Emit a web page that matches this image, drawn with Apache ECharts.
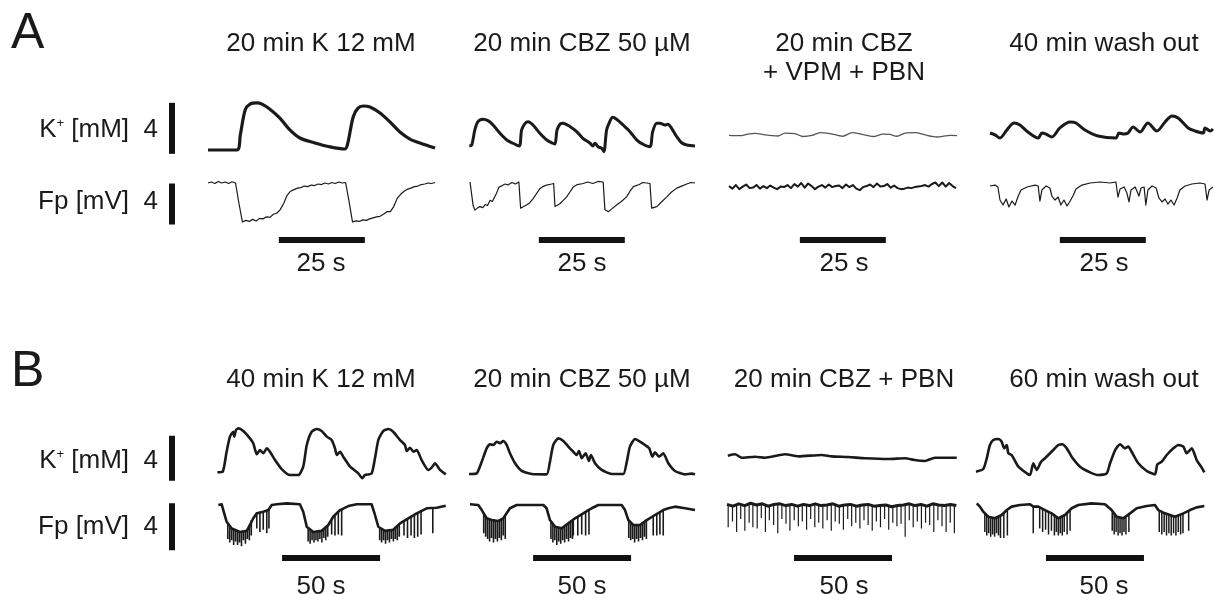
<!DOCTYPE html>
<html>
<head>
<meta charset="utf-8">
<script src="https://cdn.jsdelivr.net/npm/echarts@6.0.0/dist/echarts.min.js"></script>
<style>
html,body{margin:0;padding:0;background:#fff}
#main{width:1215px;height:594px}
</style>
</head>
<body>
<div id="main"></div>
<script>
// ---- data: time in s from the start of each trace, K+ in mM, Fp in mV ----
// panel A, K+ traces [t, dK]
var kA1 = [[0,0],[8.4,0],[9.4,1.2],[10.8,3.14],[12.2,3.6],[14.2,3.69],[15.7,3.6],[18,3.2],[20.9,2.5],[23.8,1.57],[26.7,0.94],[31.1,0.55],[35.5,0.24],[39.8,0.08],[40.6,0.5],[42.2,2.59],[43.6,3.29],[45.1,3.45],[47.1,3.37],[50.0,2.9],[52.9,2.2],[55.8,1.41],[58.7,0.86],[61.6,0.55],[66.0,0.16]];
var kA2 = [[0.1,0.31],[0.8,0.39],[1.7,1.57],[2.6,2.22],[4.1,2.41],[5.5,2.30],[7.0,1.96],[9.0,1.31],[11.0,0.78],[12.8,0.53],[14.6,0.31],[15.3,1.57],[16.3,2.09],[17.2,2.22],[18.6,1.96],[20.6,1.31],[22.6,0.78],[24.4,0.53],[25.0,0.47],[25.6,1.57],[26.5,2.04],[27.3,2.09],[29.4,1.83],[31.3,1.44],[33.1,0.92],[35.2,0.53],[36.0,0.31],[36.6,0.53],[37.5,0.26],[38.6,0.13],[39.2,-0.13],[40.0,1.57],[40.7,2.09],[41.8,2.56],[42.9,2.41],[44.8,1.96],[46.8,1.44],[48.8,0.78],[50.6,0.45],[52.6,0.26],[53.4,1.44],[54.6,2.09],[55.5,2.09],[57.0,1.96],[57.8,2.02],[58.9,1.70],[60.4,1.04],[61.8,0.57],[63.3,0.39],[65.7,0.31]];
var kA3 = [[0,1.15],[3.2,1.12],[5.5,1.25],[7.6,1.31],[10.5,1.18],[14.2,1.10],[16.3,1.33],[19.2,1.29],[21.5,1.06],[24.1,1.14],[26.5,1.37],[29.4,1.29],[33.1,1.08],[35.8,1.37],[38.7,1.22],[41.9,1.06],[44.8,1.25],[46.8,1.22],[48.8,1.08],[51.2,1.33],[54.1,1.36],[57.0,1.18],[60.5,1.02],[62.8,1.10],[64.2,1.14],[66.3,1.12]];
var kA4 = [[0,1.33],[1.45,1.18],[2.9,0.94],[4.9,1.57],[7.0,2.12],[8.7,1.96],[11.0,1.41],[14.0,0.94],[15.1,1.33],[16.3,1.25],[18.0,1.02],[20.3,1.73],[23.3,2.20],[25.0,2.12],[27.6,1.57],[31.4,1.10],[36.6,0.94],[37.5,1.33],[39.0,1.25],[40.1,1.33],[41.6,1.80],[43.6,1.41],[45.9,2.12],[48.5,1.49],[50.9,2.20],[52.9,2.67],[54.7,2.51],[57.6,1.73],[59.6,1.49],[62.0,1.33],[62.5,1.73],[64.0,1.49],[64.8,1.65]];

// panel A, Fp traces; fpA1 and fpA3 are sampled every 1 s, the others are [t, v]
var fpA1 = [0,0.1,-0.05,0.15,0,0.1,-0.05,0.12,0,-2.0,-3.8,-3.65,-3.75,-3.55,-3.7,-3.45,-3.5,-3.3,-3.35,-3.05,-2.95,-2.6,-2.0,-1.2,-0.8,-0.65,-0.5,-0.45,-0.3,-0.35,-0.2,-0.25,-0.1,-0.15,0,-0.1,0.05,-0.05,0.1,0,0.05,-1.8,-3.8,-3.7,-3.75,-3.6,-3.65,-3.5,-3.4,-3.3,-3.25,-3.05,-2.8,-2.8,-2.3,-1.5,-1.1,-0.8,-0.6,-0.5,-0.35,-0.3,-0.15,-0.1,0,-0.05,0.05];
var fpA2 = [[0.3,0.1],[1.2,-2.2],[1.7,-2.65],[2.6,-2.4],[3.2,-2.3],[4.0,-2.4],[4.7,-2.1],[5.4,-2.2],[6.1,-1.7],[6.8,-1.8],[8.0,-1.0],[8.7,-0.4],[9.4,-0.3],[10.5,-0.1],[11.3,-0.2],[12.5,0.05],[13.5,-0.1],[14.5,0.1],[15.0,-2.45],[15.9,-2.3],[16.7,-2.15],[17.6,-1.95],[18.7,-1.5],[19.5,-1.1],[20.6,-0.55],[21.5,-0.35],[22.6,-0.2],[24.0,-0.1],[24.6,-0.05],[25.0,-2.3],[25.8,-2.15],[26.5,-2.0],[27.4,-1.7],[28.4,-1.35],[29.3,-0.9],[30.3,-0.4],[31.5,-0.15],[33.2,-0.05],[34.5,0.1],[36,-0.05],[37.5,0.15],[39.0,0.1],[39.5,-2.6],[40.5,-2.8],[41.6,-2.5],[42.9,-2.15],[44.3,-1.8],[45.8,-1.35],[46.8,-0.8],[47.8,-0.35],[49.5,-0.15],[50.5,0.05],[51.7,0.0],[52.6,-0.05],[53.1,-2.45],[54.6,-2.3],[55.8,-1.9],[57.5,-1.35],[58.8,-0.9],[60.4,-0.5],[61.8,-0.3],[63.3,-0.1],[64.5,0.05],[65.7,0.0]];
var fpA3 = [-0.3,-0.55,-0.2,-0.6,-0.35,-0.15,-0.5,-0.45,-0.2,-0.55,-0.3,-0.5,-0.25,-0.45,-0.6,-0.35,-0.4,-0.2,-0.5,-0.1,-0.35,0.0,-0.45,-0.05,-0.3,-0.6,-0.35,-0.2,-0.45,-0.15,-0.4,-0.3,-0.25,-0.5,-0.15,-0.4,-0.2,-0.55,-0.7,-0.4,-0.3,-0.15,-0.4,-0.05,-0.35,-0.3,-0.1,-0.45,-0.25,-0.5,-0.6,-0.55,-0.45,-0.5,-0.4,-0.35,-0.3,-0.2,-0.35,-0.1,0.05,-0.3,0.05,-0.35,0.0,-0.3,-0.5];
var fpA4 = [[0,-0.29],[1.45,-0.2],[2.3,-0.39],[2.9,-1.66],[3.8,-2.15],[4.7,-1.56],[5.5,-2.34],[6.4,-1.76],[7.3,-2.15],[8.1,-1.37],[9.0,-0.68],[10.8,-0.39],[13.1,-0.2],[14.0,-0.29],[14.5,-1.76],[15.1,-0.68],[16.3,-0.29],[17.4,-0.49],[18.0,-1.27],[18.9,-1.66],[19.8,-1.37],[20.6,-2.15],[21.5,-1.66],[22.4,-2.24],[23.3,-1.76],[24.1,-1.27],[25.0,-0.59],[26.7,-0.2],[29.1,0],[32.0,0.1],[34.9,0],[36.6,0.1],[37.2,-1.37],[37.8,-0.59],[39.0,-0.39],[39.8,-0.98],[40.4,-1.85],[41.0,-0.68],[42.2,-0.39],[43.3,-1.27],[43.9,-0.49],[44.8,-0.39],[45.3,-2.15],[45.9,-0.68],[47.1,-0.29],[48.3,-0.49],[49.1,-1.46],[50.0,-1.85],[50.9,-1.56],[51.7,-2.05],[52.6,-1.66],[53.5,-2.15],[54.4,-1.46],[55.2,-0.68],[56.7,-0.29],[58.7,-0.1],[61.0,0],[62.5,-0.1],[63.1,-1.66],[63.7,-0.68],[64.8,-0.39]];

// panel B, K+ traces [t, dK]
var kB1 = [[0.2,0.15],[2.9,0.2],[4.9,1.98],[6.6,3.32],[8.3,3.76],[8.8,3.32],[9.7,3.91],[10.9,4.06],[13.4,3.82],[16.8,3.17],[18.5,2.73],[20.3,1.75],[21.9,2.13],[23.6,1.84],[25.4,2.28],[27.0,1.98],[29.6,1.24],[33.0,0.44],[37.2,-0.09],[41.5,-0.09],[44.0,0.65],[45.8,2.58],[48.3,3.76],[50.9,4.0],[53.4,3.82],[56.0,3.32],[58.5,3.02],[60.2,2.28],[61.1,1.69],[62.8,1.98],[64.4,1.54],[67.9,0.65],[72.1,0.06],[74.1,-0.38],[75.5,-0.09],[78.9,0.06],[80.6,1.40],[82.3,3.02],[84.8,3.82],[87.4,4.0],[89.9,3.76],[93.4,3.02],[95.9,2.58],[96.8,2.04],[98.5,2.34],[100.2,1.98],[101.9,2.13],[104.4,1.24],[107.8,0.36],[109.5,0.56],[111.2,0.95],[113.8,0.36],[116.7,-0.03]];
var kB2 = [[0,0],[3.9,0.06],[6.5,1.09],[9.0,2.28],[10.7,2.64],[12.4,2.58],[14.1,2.87],[15.8,2.73],[17.5,2.93],[19.2,2.58],[20.9,1.84],[23.5,0.95],[26.9,0.27],[32.0,0],[39.6,-0.03],[41.3,1.09],[43.0,2.58],[45.6,3.17],[48.1,2.93],[51.5,2.28],[53.2,1.98],[54.9,1.69],[56.1,2.04],[57.5,1.40],[59.5,1.84],[61.2,1.16],[62.2,1.69],[64.3,0.95],[67.7,0.36],[72.8,0],[78.7,0],[80.5,1.09],[82.1,2.43],[84.7,3.11],[87.2,2.87],[89.8,2.58],[92.0,2.28],[93.5,1.54],[94.9,1.93],[96.9,1.54],[99.1,1.84],[101.7,0.95],[105.1,0.27],[110.2,-0.03],[113.6,0.03],[115.3,-0.03]];
var kB3 = [[0.4,1.63],[4.1,1.75],[7.5,1.45],[14.3,1.54],[19.4,1.45],[29.6,1.75],[36.4,1.57],[48.3,1.69],[53.4,1.57],[61.9,1.51],[70.4,1.40],[82.3,1.33],[90.8,1.40],[95.9,1.24],[101.0,1.16],[106.1,1.45],[117.2,1.45]];
var kB4 = [[0,0.2],[3.7,0.44],[5.5,1.40],[7.1,2.58],[8.8,3.02],[11.4,3.11],[13.1,2.87],[14.4,2.28],[15.7,2.58],[16.5,1.84],[18.2,1.69],[21.6,0.65],[25.9,0.06],[27.6,-0.09],[29.2,0.95],[31.0,0.36],[33.2,1.09],[35.2,1.40],[36.9,1.69],[39.4,2.13],[42.0,2.58],[44.0,2.64],[46.3,2.28],[48.8,1.54],[53.1,0.65],[58.2,0.15],[62.4,-0.09],[66.7,0.06],[68.4,0.95],[71.0,2.13],[73.5,2.64],[76.0,2.28],[77.7,2.43],[79.4,1.98],[82.8,0.95],[87.1,0.27],[91.3,-0.03],[92.5,0.86],[94.7,1.09],[97.3,1.69],[100.7,2.28],[103.2,2.58],[105.8,2.43],[107.5,1.84],[110.1,2.28],[112.6,1.24],[115.2,0.56],[116.5,0.15]];

// panel B, Fp traces: slow envelope [t, v] plus fast spikes [t, top, bottom]
var fpB1 = [[0.7,0],[2.4,0.06],[3.2,-0.43],[4.9,-1.42],[7.5,-2.0],[11.7,-2.3],[15.2,-2.2],[16.8,-1.7],[18.5,-1.13],[20.3,-0.71],[23.6,-0.57],[26.2,-0.43],[27.9,0],[30.5,0.06],[35.6,0.14],[42.3,0.06],[44.0,-0.57],[45.8,-1.85],[49.1,-2.3],[53.4,-2.2],[56.8,-1.7],[59.3,-1.0],[62.8,-0.43],[67.0,-0.09],[71.3,0.06],[78.9,0.06],[80.6,-0.85],[82.3,-1.85],[85.7,-2.2],[89.9,-2.1],[93.4,-1.56],[97.6,-1.13],[101.9,-0.71],[107.0,-0.28],[112.1,-0.23],[116.7,-0.06]];
var spkB1 = [[5.5,-1.6,-2.9],[6.5,-1.9,-3.2],[7.5,-2.0,-3.0],[8.5,-2.1,-3.4],[9.5,-2.2,-3.1],[10.5,-2.25,-3.4],[11.5,-2.3,-3.2],[12.5,-2.3,-3.5],[13.5,-2.25,-3.0],[14.5,-2.2,-3.3],[15.5,-2.1,-2.9],[16.5,-1.7,-3.0],[17.5,-1.3,-2.6],[20.3,-0.7,-2.0],[21.9,-0.65,-2.3],[23.6,-0.57,-2.1],[25.4,-0.5,-2.4],[26.5,-0.4,-2.0],[46.5,-2.0,-3.1],[47.5,-2.15,-3.3],[48.5,-2.25,-3.0],[49.5,-2.3,-3.2],[50.5,-2.3,-3.0],[51.5,-2.25,-3.1],[52.5,-2.2,-2.9],[53.5,-2.2,-3.2],[54.5,-2.05,-2.8],[55.5,-1.9,-3.0],[56.5,-1.7,-2.7],[58.5,-1.1,-2.5],[60.2,-0.85,-2.6],[61.9,-0.6,-2.5],[63.6,-0.4,-2.6],[83,-2.0,-3.0],[84,-2.1,-3.2],[85,-2.2,-3.0],[86,-2.2,-3.3],[87,-2.15,-3.0],[88,-2.12,-3.2],[89,-2.1,-2.9],[90,-2.05,-3.1],[91,-1.9,-2.9],[92,-1.75,-3.0],[93,-1.6,-2.7],[95.4,-1.45,-2.6],[97.2,-1.15,-2.8],[99.0,-1.0,-2.6],[100.7,-0.85,-2.8],[102.4,-0.7,-2.7],[104.1,-0.55,-2.5],[110.1,-0.25,-2.4]];
var fpB2 = [[0.5,0.06],[4.7,0],[6.5,-0.43],[9.0,-1.13],[11.6,-1.28],[14.9,-1.36],[17.5,-1.13],[19.2,-0.71],[20.9,-0.28],[24.3,0],[37.9,0],[39.6,-0.28],[41.3,-1.28],[43.9,-1.85],[47.3,-1.98],[50.7,-1.56],[54.1,-1.13],[58.3,-0.71],[60.9,-0.43],[62.6,-0.28],[66.0,0],[77.9,0],[79.6,-0.43],[81.3,-1.28],[83.8,-1.7],[87.2,-1.7],[90.7,-1.28],[94.9,-0.85],[99.1,-0.43],[101.7,-0.28],[105.1,-0.14],[110.2,-0.28],[115.3,-0.43]];
var spkB2 = [[7.5,-0.7,-2.4],[8.5,-1.0,-2.7],[9.5,-1.15,-2.9],[10.5,-1.2,-3.1],[11.5,-1.28,-2.8],[12.5,-1.3,-3.2],[13.5,-1.33,-2.9],[14.5,-1.36,-3.1],[15.5,-1.3,-2.8],[16.5,-1.2,-3.0],[17.5,-1.13,-2.6],[18.5,-0.9,-2.9],[41.8,-1.4,-2.9],[42.8,-1.6,-3.2],[43.8,-1.85,-3.0],[44.8,-1.9,-3.4],[45.8,-1.95,-3.1],[46.8,-1.98,-3.3],[47.8,-1.95,-3.0],[48.8,-1.85,-3.2],[49.8,-1.7,-2.9],[50.8,-1.56,-3.1],[51.8,-1.4,-2.8],[52.8,-1.3,-2.9],[53.2,-1.2,-2.6],[55.5,-1.0,-2.6],[57.5,-0.8,-2.5],[59.5,-0.65,-2.6],[61.2,-0.45,-2.5],[81.5,-1.3,-2.8],[82.5,-1.5,-3.0],[83.5,-1.65,-2.9],[84.5,-1.7,-3.2],[85.5,-1.7,-2.9],[86.5,-1.7,-3.1],[87.5,-1.68,-2.8],[88.5,-1.6,-3.0],[89.5,-1.45,-2.7],[90.5,-1.3,-2.9],[94.0,-0.95,-2.6],[95.8,-0.85,-2.6],[97.4,-0.65,-2.5],[99.1,-0.45,-2.6]];
var fpB3 = [[0,0.05],[3,-0.1],[6,0.1],[9,-0.05],[12,0.15],[15,0],[18,0.1],[21,-0.1],[24,0.05],[27,0.1],[30,-0.05],[33,0.05],[36,-0.1],[39,0.05],[42,-0.05],[45,0.1],[48,-0.05],[51,0],[54,0.1],[57,-0.1],[60,0],[63,0.05],[66,-0.1],[69,0],[72,0.05],[75,-0.1],[78,-0.05],[81,0],[84,-0.15],[87,-0.05],[90,0],[93,0.1],[96,-0.05],[99,0.05],[102,-0.1],[105,0.1],[108,0],[111,-0.05],[114,0.05],[117,-0.05]];
var spkB3 = [[0.6,0,-1.9],[2.8,0,-1.4],[4.9,0,-2.3],[7.0,0,-1.2],[9.1,0,-2.2],[11.3,0,-1.5],[13.2,0,-1.9],[15.4,0,-2.0],[17.5,0,-1.1],[19.6,0,-2.3],[21.6,0,-1.3],[23.8,0,-1.7],[25.9,0,-2.4],[28.0,0,-1.2],[30.1,0,-1.6],[32.1,0,-2.2],[34.3,0,-1.3],[36.4,0,-1.8],[38.4,0,-1.4],[40.6,0,-2.1],[42.7,0,-1.2],[44.8,0,-1.9],[46.8,0,-1.5],[48.9,0,-2.0],[51.1,0,-1.3],[53.2,0,-2.2],[55.2,0,-1.4],[57.3,0,-1.6],[59.4,0,-2.1],[61.6,0,-1.2],[63.6,0,-1.8],[65.7,0,-1.5],[67.8,0,-2.0],[69.9,0,-1.3],[72.0,0,-1.7],[74.1,0,-2.2],[76.2,0,-1.4],[78.3,0,-1.9],[80.4,0,-1.2],[82.5,0,-2.1],[84.6,0,-1.5],[86.7,0,-1.8],[88.8,0,-1.6],[90.9,0,-2.7],[93.0,0,-1.3],[95.0,0,-1.9],[97.1,0,-1.4],[99.2,0,-2.0],[101.3,0,-1.5],[103.4,0,-1.7],[105.5,0,-2.3],[107.6,0,-1.3],[109.7,0,-1.8],[111.8,0,-2.3],[113.9,0,-1.5],[116.0,0,-2.4]];
var fpB4 = [[0.4,0.14],[2.0,-0.14],[3.7,-0.57],[6.3,-1.0],[9.7,-1.13],[13.1,-0.85],[15.7,-0.43],[18.2,-0.14],[22.4,0],[27.6,0.06],[29.2,-0.14],[31.8,-0.14],[35.2,-0.43],[38.6,-0.71],[42.0,-1.13],[45.4,-0.85],[48.8,-0.28],[52.2,0],[59.0,0.14],[65.8,0.06],[69.2,-0.43],[71.8,-1.0],[75.2,-1.13],[78.6,-0.71],[82.0,-0.28],[87.1,-0.09],[91.3,0],[93.0,-0.43],[96.4,-0.71],[101.5,-1.0],[105.8,-0.71],[109.2,-0.43],[112.6,-0.2],[116.5,-0.09]];
var spkB4 = [[4.5,-0.75,-2.3],[5.5,-0.9,-2.6],[6.5,-1.0,-2.4],[7.5,-1.05,-2.7],[8.5,-1.1,-2.5],[9.5,-1.13,-2.7],[10.5,-1.1,-2.4],[11.5,-1.0,-2.6],[12.5,-0.9,-2.8],[14.2,-0.7,-2.8],[16.0,-0.4,-2.6],[29.2,-0.1,-2.4],[32.5,-0.2,-2.0],[34.0,-0.35,-2.3],[35.5,-0.45,-2.1],[37.0,-0.6,-2.5],[38.5,-0.7,-2.2],[40.0,-0.85,-2.6],[41.0,-1.0,-2.3],[42.0,-1.1,-2.6],[43.0,-1.05,-2.4],[44.0,-0.95,-2.6],[45.0,-0.9,-2.3],[46.5,-0.7,-2.5],[48.0,-0.4,-2.2],[69.5,-0.45,-2.2],[70.5,-0.7,-2.5],[71.5,-0.95,-2.3],[72.5,-1.05,-2.6],[73.5,-1.1,-2.4],[74.5,-1.13,-2.6],[75.5,-1.1,-2.3],[76.5,-1.0,-2.5],[78.0,-0.75,-2.3],[93.5,-0.45,-2.3],[94.8,-0.55,-2.5],[96.0,-0.7,-2.3],[97.2,-0.75,-2.6],[98.4,-0.85,-2.4],[99.6,-0.9,-2.6],[100.8,-1.0,-2.4],[102.0,-0.95,-2.6],[103.2,-0.9,-2.3],[104.4,-0.8,-2.5],[105.6,-0.7,-2.4],[108.5,-0.45,-2.2]];

// text
var titlesA = ['20 min K 12 mM', '20 min CBZ 50 \u00b5M', '20 min CBZ', '40 min wash out'];
var subTitleA3 = '+ VPM + PBN';
var titlesB = ['40 min K 12 mM', '20 min CBZ 50 \u00b5M', '20 min CBZ + PBN', '60 min wash out'];
var scaleK = 4, scaleFp = 4;     // mM, mV
var scaleTimeA = 25, scaleTimeB = 50;  // s

// ---- layout (pixels) ----
var FONT = '"Liberation Sans", Arial, sans-serif';
var INK = '#1a1a1a';
var panels = [
  {letter:'A', letterY:34, titleY:44, tPx:3.44, x0:[208,469,729,990],
   kRef:150, kPx:12.75, fpRef:183, fpPx:10.25, kLabelY:130, fpLabelY:202,
   kBar0:-0.3, fpBar0:-4.05, barY:240, barT0:[20.6,20.3,20.6,20.3], barLen:scaleTimeA, barTextY:264,
   k:[kA1,kA2,kA3,kA4], fp:[fpA1,fpA2,fpA3,fpA4], spk:[null,null,null,null],
   titles:titlesA, kW:[3.2,3,1.3,3], kC:[INK,INK,'#555',INK], fpW:[1.2,1.2,2,1.2], spkW:[0,0,0,0], kSmooth:0.3},
  {letter:'B', letterY:372, titleY:380, tPx:1.96, x0:[217,469,727,976],
   kRef:474, kPx:11.25, fpRef:505, fpPx:11.75, kLabelY:461, fpLabelY:527,
   kBar0:-0.6, fpBar0:-3.85, barY:558, barT0:[33.2,32.7,34.2,35.7], barLen:scaleTimeB, barTextY:587,
   k:[kB1,kB2,kB3,kB4], fp:[fpB1,fpB2,fpB3,fpB4], spk:[spkB1,spkB2,spkB3,spkB4],
   titles:titlesB, kW:[2.6,2.6,2.6,2.6], kC:[INK,INK,INK,INK], fpW:[2.6,2.6,3,2.6], spkW:[1.6,1.6,1.2,1.5], kSmooth:0.2}
];
var textX = [321, 582, 844, 1104];

function sampled(arr, dt) {
  return arr.map(function (v, i) { return [i * dt, v]; });
}
function spikeLine(spk) {
  var out = [];
  spk.forEach(function (s) { out.push([s[0], s[1]], [s[0], s[2]], [s[0], '-']); });
  return out;
}

var grids = [], xAxes = [], yAxes = [], series = [], graphics = [];
function addGrid(left, top, w, h, xmin, xmax, ymin, ymax) {
  grids.push({left:left, top:top, width:w, height:h});
  var i = grids.length - 1;
  xAxes.push({type:'value', gridIndex:i, min:xmin, max:xmax, show:false});
  yAxes.push({type:'value', gridIndex:i, min:ymin, max:ymax, show:false});
  return i;
}
function addLine(g, data, width, color, smooth) {
  series.push({type:'line', xAxisIndex:g, yAxisIndex:g, data:data, symbol:'none',
    smooth:smooth || false, lineStyle:{width:width, color:color, cap:'butt', join:'round'}, silent:true});
}
function addText(x, y, text, size, align, rich) {
  var st = {text:text, font:size + 'px ' + FONT, fill:INK, align:align || 'center', verticalAlign:'middle'};
  if (rich) st.rich = rich;
  graphics.push({type:'text', x:x, y:y, style:st, silent:true});
}

panels.forEach(function (p) {
  // K row and Fp row grids, one per column
  var kAbove = 60, kBelow = 20, fAbove = 15, fBelow = 85;
  for (var c = 0; c < 4; c++) {
    var gw = Math.min(245, 1215 - p.x0[c]);
    var gk = addGrid(p.x0[c], p.kRef - kAbove, gw, kAbove + kBelow, 0, gw / p.tPx, -kBelow / p.kPx, kAbove / p.kPx);
    addLine(gk, p.k[c], p.kW[c], p.kC[c], p.kSmooth);
    var gf = addGrid(p.x0[c], p.fpRef - fAbove, gw, fAbove + fBelow, 0, gw / p.tPx, -fBelow / p.fpPx, fAbove / p.fpPx);
    var fd = typeof p.fp[c][0] === 'number' ? sampled(p.fp[c], 1) : p.fp[c];
    if (p.spk[c]) addLine(gf, spikeLine(p.spk[c]), p.spkW[c], INK);
    addLine(gf, fd, p.fpW[c], INK);
    // time scale bar
    var vb = (p.fpRef - p.barY) / p.fpPx;
    addLine(gf, [[p.barT0[c], vb], [p.barT0[c] + p.barLen, vb]], 6, '#111');
    addText(textX[c], p.barTextY, p.barLen + ' s', 26);
    addText(textX[c], p.titleY, p.titles[c], 26);
  }
  // vertical scale bars (4 mM, 4 mV)
  var sk = addGrid(160, p.kRef - kAbove, 24, kAbove + kBelow, 0, 24, -kBelow / p.kPx, kAbove / p.kPx);
  addLine(sk, [[12, p.kBar0], [12, p.kBar0 + scaleK]], 6, '#111');
  var sf = addGrid(160, p.fpRef - fAbove, 24, fAbove + fBelow, 0, 24, -fBelow / p.fpPx, fAbove / p.fpPx);
  addLine(sf, [[12, p.fpBar0], [12, p.fpBar0 + scaleFp]], 6, '#111');

  addText(158, p.kLabelY, '{n|K}{s|+}{n| [mM]  ' + scaleK + '}', 26, 'right',
    {n:{fontSize:26, fontFamily:'Liberation Sans', color:INK}, s:{fontSize:13, fontFamily:'Liberation Sans', color:INK, verticalAlign:'top', padding:[0,0,12,0]}});
  addText(158, p.fpLabelY, 'Fp [mV]  ' + scaleFp, 26, 'right');
  addText(11, p.letterY, p.letter, 50, 'left');
});
addText(844, 73, subTitleA3, 26);

var chart = echarts.init(document.getElementById('main'), null, {renderer:'canvas'});
chart.setOption({
  animation:false,
  backgroundColor:'#ffffff',
  grid:grids, xAxis:xAxes, yAxis:yAxes, series:series,
  graphic:{elements:graphics}
});
</script>
</body>
</html>
